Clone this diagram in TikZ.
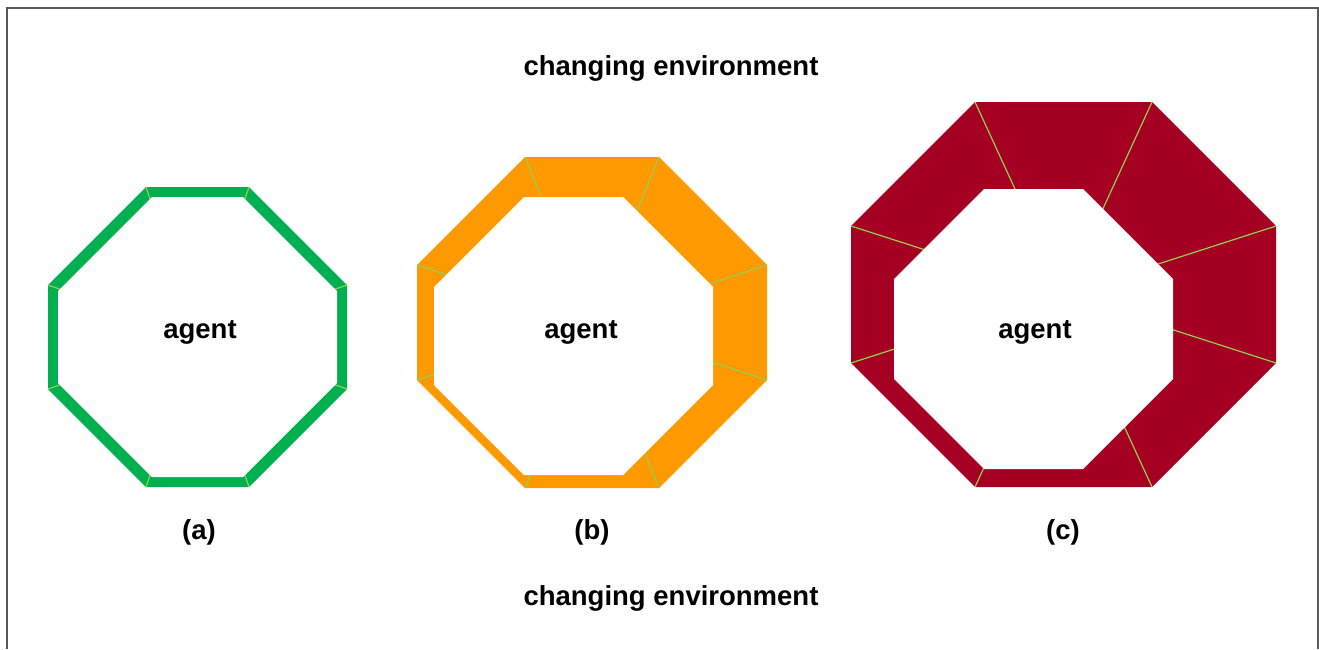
\documentclass[tikz,border=0pt]{standalone}
\usepackage{fontspec}
\setmainfont{Liberation Sans}
\definecolor{ringgreen}{RGB}{0, 176, 80}
\definecolor{ringorange}{RGB}{255, 153, 0}
\definecolor{ringred}{RGB}{165, 0, 33}
\definecolor{seamgreen}{RGB}{146, 208, 80}
\definecolor{framegray}{RGB}{89, 89, 89}

% octagon corners: name, left, top, right, bottom, cut
\newcommand{\octcoords}[6]{%
  \coordinate (#1-1) at (#2+#6,#3);
  \coordinate (#1-2) at (#4-#6,#3);
  \coordinate (#1-3) at (#4,#3+#6);
  \coordinate (#1-4) at (#4,#5-#6);
  \coordinate (#1-5) at (#4-#6,#5);
  \coordinate (#1-6) at (#2+#6,#5);
  \coordinate (#1-7) at (#2,#5-#6);
  \coordinate (#1-8) at (#2,#3+#6);
  \coordinate (#1-c) at ({(#2+#4)/2},{(#3+#5)/2});
}
\newcommand{\octpath}[1]{(#1-1) -- (#1-2) -- (#1-3) -- (#1-4) -- (#1-5) -- (#1-6) -- (#1-7) -- (#1-8) -- cycle}

\begin{document}
\begin{tikzpicture}[
    x=1pt, y=-1pt,
    label-txt/.style={font=\bfseries\fontsize{27.5}{30}\selectfont, anchor=base, inner sep=0pt},
    seam/.style={seamgreen, line width=1.2pt},
    hole/.style={fill=white}
  ]
  \useasboundingbox (0,0) rectangle (1319,649);
  \draw[framegray, line width=2pt] (7,649) -- (7,8) -- (1318,8) -- (1318,649);

  \octcoords{ao}{48}{187}{347}{487}{98}
  \octcoords{ai}{58}{197}{337}{477}{94}
  \octcoords{bo}{417}{157}{767}{488}{108}
  \octcoords{bi}{434}{197}{713}{475}{90}
  \octcoords{co}{851}{102}{1276}{487}{124}
  \octcoords{ci}{894}{189}{1173}{469}{90}

  \foreach \ring/\col in {a/ringgreen, b/ringorange, c/ringred} {
      \fill[\col] \octpath{\ring o};
      \foreach \k in {1,...,8} {
          \draw[seam] (\ring o-\k) -- (\ring o-c);
        }
      \fill[hole] \octpath{\ring i};
    }

  \node[label-txt] (envtop) at (671,75) {changing environment};
  \node[label-txt] (envbot) at (671,605) {changing environment};

  \node[label-txt] (agenta) at (200,338) {agent};
  \node[label-txt] (agentb) at (581,338) {agent};
  \node[label-txt] (agentc) at (1035,338) {agent};

  \node[label-txt] (capa) at (199,539) {(a)};
  \node[label-txt] (capb) at (592,539) {(b)};
  \node[label-txt] (capc) at (1063,539) {(c)};

\end{tikzpicture}
\end{document}
